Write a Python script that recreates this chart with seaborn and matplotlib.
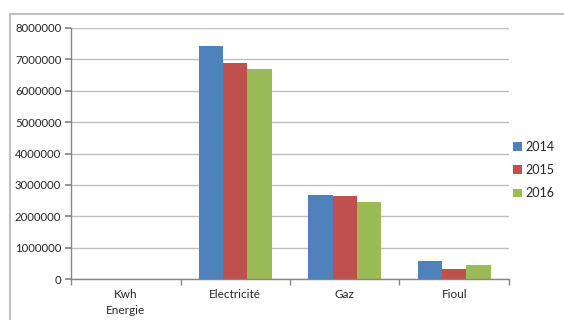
import matplotlib
matplotlib.use("Agg")
import matplotlib.pyplot as plt
from matplotlib.patches import Rectangle
import seaborn as sns
import pandas as pd

categories = ["Kwh\nEnergie", "Electricité", "Gaz", "Fioul"]
years = ["2014", "2015", "2016"]
values_2014 = [0, 7430000, 2670000, 570000]
values_2015 = [0, 6870000, 2640000, 310000]
values_2016 = [0, 6700000, 2450000, 440000]
y_ticks = [0, 1000000, 2000000, 3000000, 4000000, 5000000, 6000000, 7000000, 8000000]
colors = ["#4F81BD", "#C0504D", "#9BBB59"]

rows = []
for year, vals in zip(years, [values_2014, values_2015, values_2016]):
    for cat, v in zip(categories, vals):
        rows.append({"cat": cat, "year": year, "value": v})
df = pd.DataFrame(rows)

sns.set_theme(style="white")
plt.rcParams["font.family"] = ["Lato", "DejaVu Sans"]
text_color = "#262626"

fig = plt.figure(figsize=(5.64, 3.20), dpi=100)
fig.patch.set_facecolor("white")
# chart-area frame
fig.patches.append(Rectangle((10 / 564, -0.2), 1.2, 1 - 14 / 320 + 0.2,
                             transform=fig.transFigure, fill=False,
                             edgecolor="#BFBFBF", linewidth=1.5, zorder=0))

ax = fig.add_axes([71 / 564, 1 - 279 / 320, (509 - 71) / 564, (279 - 28) / 320])
sns.barplot(data=df, x="cat", y="value", hue="year", palette=colors,
            order=categories, hue_order=years, width=0.667, gap=0,
            saturation=1, linewidth=0, ax=ax, legend=True)

ax.set_ylim(0, 8000000)
ax.set_xlim(-0.5, 3.5)
ax.set_yticks(y_ticks)
ax.set_yticklabels([str(t) for t in y_ticks])
ax.yaxis.grid(True, color="#C0C0C0", linewidth=1.0)
ax.set_axisbelow(True)
ax.set_xlabel("")
ax.set_ylabel("")

for side in ["top", "right"]:
    ax.spines[side].set_visible(False)
for side in ["left", "bottom"]:
    ax.spines[side].set_color("#868686")
    ax.spines[side].set_linewidth(1.0)

ax.set_xticks(range(len(categories)))
ax.set_xticklabels(categories)
ax.set_xticks([-0.5, 0.5, 1.5, 2.5, 3.5], minor=True)
ax.tick_params(axis="x", which="major", length=0, pad=7.5, labelsize=8.5, labelcolor=text_color)
ax.tick_params(axis="x", which="minor", length=4, color="#868686", direction="out", bottom=True)
ax.tick_params(axis="y", which="major", length=4, color="#868686", direction="out", left=True,
               labelsize=8.2, labelcolor=text_color, pad=3)
for lbl in ax.get_xticklabels():
    lbl.set_verticalalignment("top")
    lbl.set_linespacing(1.5)

handles, labels = ax.get_legend_handles_labels()
ax.get_legend().remove()
fig.legend(handles, labels, loc="center left", bbox_to_anchor=(502 / 564, 1 - 170 / 320),
           frameon=False, fontsize=9, handlelength=0.7, handleheight=0.7,
           handletextpad=0.3, labelspacing=0.9, labelcolor=text_color)

fig.savefig("out.png", dpi=100, facecolor="white")
